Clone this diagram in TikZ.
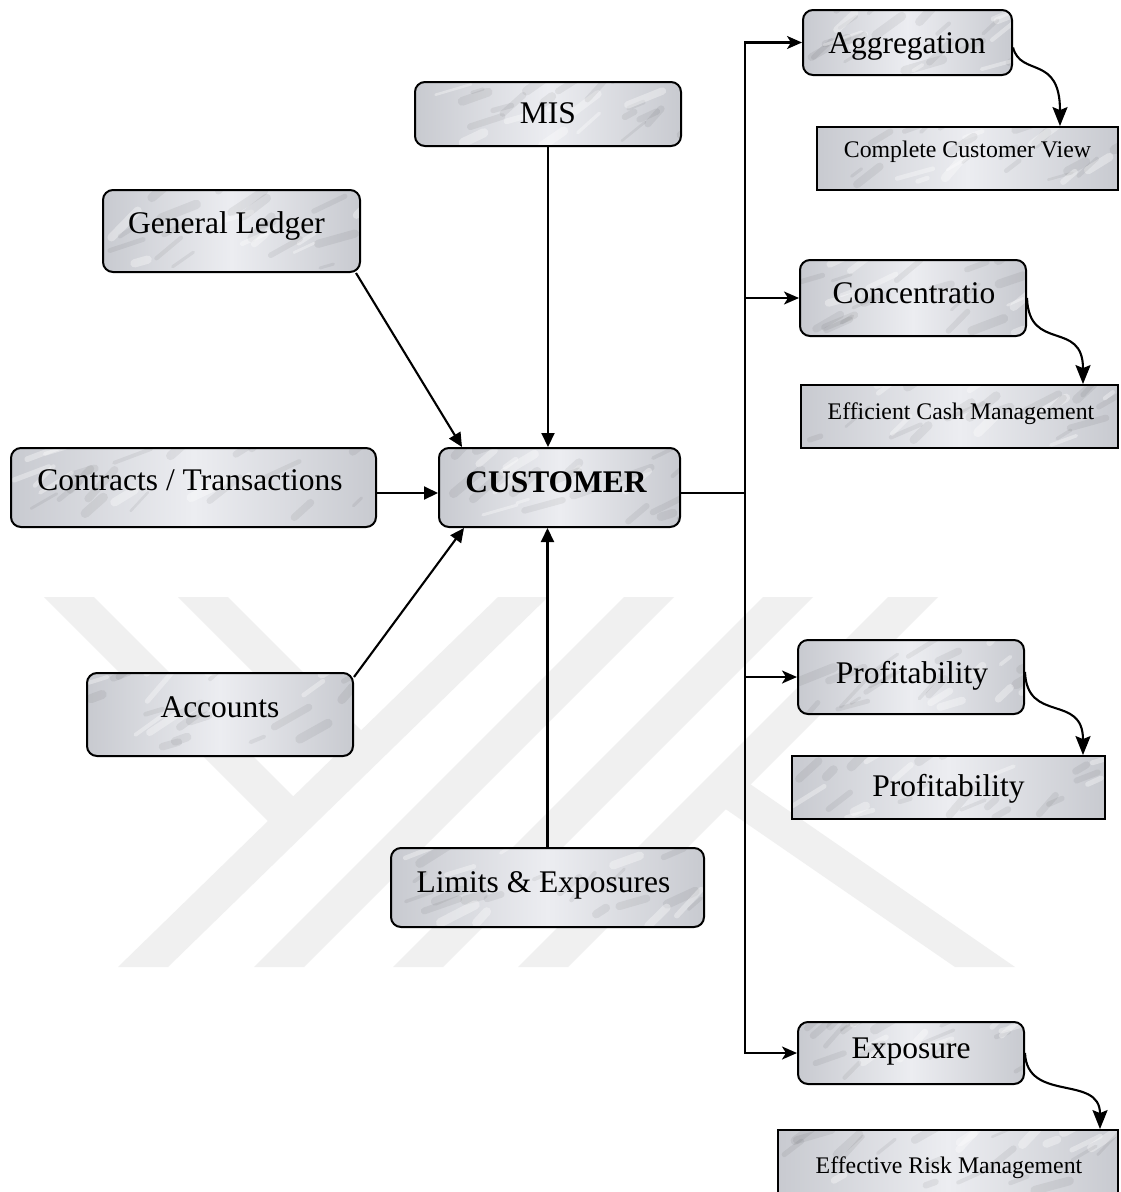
\documentclass[tikz,border=0pt]{standalone}
\usepackage{fontspec}
\setmainfont{Liberation Serif}
\usetikzlibrary{arrows.meta,calc}

\definecolor{wmark}{gray}{0.94}
\definecolor{marbleEdge}{RGB}{200,202,208}
\definecolor{marbleMid}{RGB}{236,237,241}

\tikzset{
  % soft marble look: light axis shading plus random diagonal veins
  veins/.style={path picture={%
    \pgfpointanchor{path picture bounding box}{south west}\pgfgetlastxy{\mxa}{\mya}%
    \pgfpointanchor{path picture bounding box}{north east}\pgfgetlastxy{\mxb}{\myb}%
    \foreach \k in {1,...,24}{%
      \pgfmathsetmacro{\u}{\mxa+rnd*(\mxb-\mxa)}%
      \pgfmathsetmacro{\v}{\mya+rnd*(\myb-\mya)}%
      \pgfmathsetmacro{\len}{10+rnd*30}%
      \pgfmathsetmacro{\ang}{15+rnd*35}%
      \pgfmathsetmacro{\lw}{2.5+rnd*7}%
      \pgfmathtruncatemacro{\dk}{mod(\k,3)}%
      \ifnum\dk=0 \def\scol{white}\def\sop{0.35}\else\def\scol{black}\def\sop{0.06}\fi
      \draw[draw=\scol, draw opacity=\sop, line width=\lw pt, line cap=round]
        (\u pt,\v pt) -- ++(\ang:\len pt);%
    }%
  }},
  marble/.style={left color=marbleEdge, right color=marbleEdge, middle color=marbleMid, veins},
  rbox/.style={draw, line width=2pt, rounded corners=10pt, marble},
  sbox/.style={draw, line width=1.8pt, marble},
  lbl/.style={anchor=base, inner sep=0pt, font=\fontsize{31.5}{36}\selectfont},
  slbl/.style={anchor=base, inner sep=0pt, font=\fontsize{23.8}{28}\selectfont},
  conn/.style={line width=2.1pt},
  inarrow/.style={conn, -{Triangle[length=14pt,width=13pt]}},
  outarrow/.style={conn, -{Stealth[length=15pt,width=13pt,inset=4pt]}},
  curvearrow/.style={conn, -{Stealth[length=19pt,width=15pt,inset=3pt]}},
}

\begin{document}
\begin{tikzpicture}[x=1pt, y=-1pt]
\useasboundingbox (0,0) rectangle (1121,1192);
\clip (0,0) rectangle (1121,1192);
\fill[white] (0,0) rectangle (1121,1192);

% faint striped emblem in the background
\begin{scope}[fill=wmark]
  \fill (118,967) -- (168,967) -- (548,597) -- (498,597) -- cycle;
  \fill (254,967) -- (304,967) -- (674,597) -- (624,597) -- cycle;
  \fill (393,967) -- (443,967) -- (813,597) -- (763,597) -- cycle;
  \fill (518,967) -- (568,967) -- (938,597) -- (888,597) -- cycle;
  \fill (44,597) -- (94,597) -- (301,804) -- (276,829) -- cycle;
  \fill (178,597) -- (228,597) -- (370,739) -- (344,763) -- cycle;
  \fill (737,775) -- (1015,967) -- (955,967) -- (711,799) -- cycle;
\end{scope}

\pgfmathsetseed{4242}

% source boxes
\node[rbox, minimum width=266pt, minimum height=64pt] (mis)  at (548,114) {};
\node[rbox, minimum width=257pt, minimum height=82pt] (gl)   at (231.5,231) {};
\node[rbox, minimum width=365pt, minimum height=79pt] (ct)   at (193.5,487.5) {};
\node[rbox, minimum width=241pt, minimum height=79pt] (cust) at (559.5,487.5) {};
\node[rbox, minimum width=266pt, minimum height=83pt] (acc)  at (220,714.5) {};
\node[rbox, minimum width=313pt, minimum height=79pt] (lim)  at (547.5,887.5) {};

% result boxes
\node[rbox, minimum width=209pt, minimum height=65pt] (agg)   at (907.5,42.5) {};
\node[sbox, minimum width=301pt, minimum height=63pt] (ccv)   at (967.5,158.5) {};
\node[rbox, minimum width=226pt, minimum height=76pt] (conc)  at (913,298) {};
\node[sbox, minimum width=317pt, minimum height=63pt] (ecm)   at (959.5,416.5) {};
\node[rbox, minimum width=226pt, minimum height=74pt] (prof1) at (911,677) {};
\node[sbox, minimum width=313pt, minimum height=63pt] (prof2) at (948.5,787.5) {};
\node[rbox, minimum width=226pt, minimum height=62pt] (exp)   at (911,1053) {};
\node[sbox, minimum width=340pt, minimum height=66pt] (erm)   at (948,1163) {};

% inputs into the customer box
\draw[inarrow] (mis.south) -- (mis.south |- cust.north);
\draw[inarrow] ($(gl.south east)+(-5,0)$) -- ($(cust.north west)+(24,0)$);
\draw[inarrow] ($(ct.east)+(0,5.5)$) -- ($(cust.west)+(0,5.5)$);
\draw[inarrow] ($(acc.north east)+(0,5)$) -- ($(cust.south west)+(26,0)$);
\draw[inarrow] (lim.north) -- (lim.north |- cust.south);

% distribution trunk
\coordinate (tTop) at (745,42.5);
\coordinate (tBot) at (745,1053);
\coordinate (tMid) at (745,493);
\draw[conn, line cap=rect] (tTop) -- (tBot);
\draw[conn] ($(cust.east)+(0,5.5)$) -- (tMid);
\draw[outarrow] (tTop) -- (agg.west);
\draw[outarrow] (tTop |- conc.west) -- (conc.west);
\draw[outarrow] (tTop |- prof1.west) -- (prof1.west);
\draw[outarrow] (tBot) -- (exp.west);

% outcomes
\draw[curvearrow] ($(agg.east)+(0,5)$) .. controls +(8,30) and +(0,-72) .. ([xshift=92.5pt]ccv.north);
\draw[curvearrow] (conc.east) .. controls +(2,55) and +(0,-65) .. ([xshift=123.5pt]ecm.north);
\draw[curvearrow] ($(prof1.east)+(0,-5)$) .. controls +(2,52) and +(0,-62) .. ([xshift=134.5pt]prof2.north);
\draw[curvearrow] (exp.east) .. controls +(2,50) and +(0,-55) .. ([xshift=152pt]erm.north);

% labels
\node[lbl] (mis-t)  at (548,123) {MIS};
\node[lbl] (gl-t)   at (226.5,233) {General Ledger};
\node[lbl] (ct-t)   at (190,490) {Contracts / Transactions};
\node[lbl, font=\bfseries\fontsize{31.5}{36}\selectfont] (cust-t) at (556,492) {CUSTOMER};
\node[lbl] (acc-t)  at (220,717) {Accounts};
\node[lbl] (lim-t)  at (543.5,892) {Limits \& Exposures};
\node[lbl] (agg-t)  at (907,53) {Aggregation};
\node[slbl] (ccv-t) at (967.5,157) {Complete Customer View};
\node[lbl] (conc-t) at (914,303) {Concentratio};
\node[slbl] (ecm-t) at (961,419) {Efficient Cash Management};
\node[lbl] (prof1-t) at (912,683) {Profitability};
\node[lbl] (prof2-t) at (948.5,796) {Profitability};
\node[lbl] (exp-t)  at (911,1058) {Exposure};
\node[slbl] (erm-t) at (949,1173) {Effective Risk Management};
\end{tikzpicture}
\end{document}
